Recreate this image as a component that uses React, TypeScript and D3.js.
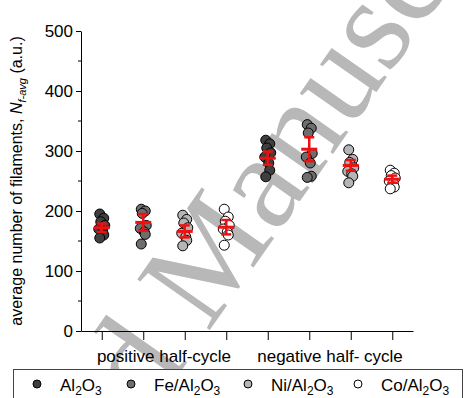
import React, { useEffect, useRef } from 'react';
import * as d3 from 'd3';

// values (a.u.)
const materials = ['Al2O3', 'Fe/Al2O3', 'Ni/Al2O3', 'Co/Al2O3'];
const halfCycles = ['positive half-cycle', 'negative half- cycle'];
const fills = ['#3f3f3f', '#6e6e6e', '#b5b5b5', '#ffffff'];

const posAl = [195, 188, 182, 176, 170, 165, 160, 155];
const posFe = [203, 200, 196, 176, 171, 165, 161, 145];
const posNi = [193, 186, 180, 172, 163, 157, 151, 142];
const posCo = [203, 190, 183, 176, 170, 165, 160, 143];
const negAl = [318, 312, 305, 297, 290, 280, 268, 257];
const negFe = [344, 338, 330, 296, 290, 280, 258, 256];
const negNi = [302, 286, 281, 272, 266, 262, 258, 247];
const negCo = [268, 263, 259, 255, 250, 246, 240, 237];

const groupValues = [posAl, posFe, posNi, posCo, negAl, negFe, negNi, negCo];
const means = [172, 181, 166, 173, 288, 303, 276, 253];
const errors = [7, 14, 10, 12, 11, 20, 9, 6];

const yTicks = [0, 100, 200, 300, 400, 500];

const App = () => {
  const svgRef = useRef<SVGSVGElement>(null);

  useEffect(() => {
    const svg = d3.select(svgRef.current);
    svg.selectAll('*').remove();

    const width = 474;
    const height = 398;
    const margin = { left: 81, right: 61, top: 31, bottom: 67 };
    const font = 'Liberation Sans, Arial, sans-serif';

    svg.attr('width', width).attr('height', height);

    const x = d3.scaleLinear().domain([0.5, 8.5]).range([margin.left, width - margin.right]);
    const y = d3.scaleLinear().domain([0, 500]).range([height - margin.bottom, margin.top]);

    // watermark
    svg.append('text')
      .attr('transform', 'translate(228,304) rotate(-55)')
      .attr('text-anchor', 'middle')
      .style('font-family', 'Liberation Serif, Times New Roman, serif')
      .style('font-size', '135px')
      .attr('fill', '#b8b8b8')
      .text('Accepted Manuscript');

    // axes
    const yAxis = svg.append('g').attr('transform', `translate(${margin.left},0)`);
    yAxis.call(d3.axisLeft(y).tickValues(yTicks).tickSize(5).tickSizeOuter(0).tickPadding(3));
    yAxis.selectAll('text').style('font-family', font).style('font-size', '17px').attr('fill', '#000');
    yAxis.select('.domain').attr('stroke', '#000');
    yAxis.selectAll('.minor')
      .data(d3.range(50, 500, 100))
      .enter()
      .append('line')
      .attr('x1', -3)
      .attr('x2', 0)
      .attr('y1', d => y(d))
      .attr('y2', d => y(d))
      .attr('stroke', '#000');

    const xAxis = svg.append('g').attr('transform', `translate(0,${y(0)})`);
    xAxis.call(d3.axisBottom(x).tickValues(d3.range(1, 9)).tickSize(9).tickSizeOuter(0).tickFormat(() => ''));
    xAxis.select('.domain').attr('stroke', '#000');

    halfCycles.forEach((label, i) => {
      svg.append('text')
        .attr('x', (x(1 + i * 4) + x(4 + i * 4)) / 2)
        .attr('y', 362)
        .attr('text-anchor', 'middle')
        .style('font-family', font)
        .style('font-size', '17px')
        .text(label);
    });

    // y label
    const yl = svg.append('text')
      .attr('transform', `translate(22,${(y(0) + y(500)) / 2}) rotate(-90)`)
      .attr('text-anchor', 'middle')
      .style('font-family', font)
      .style('font-size', '16px');
    yl.append('tspan').text('average number of filaments, ');
    yl.append('tspan').style('font-style', 'italic').text('N');
    yl.append('tspan').style('font-style', 'italic').style('font-size', '11px').attr('dy', 4).text('f-avg');
    yl.append('tspan').attr('dy', -4).text(' (a.u.)');

    // points
    const jitter = [-2, 2, -1, 3, -3, 1, 2, -2];
    groupValues.forEach((vals, g) => {
      svg.append('g')
        .selectAll('circle')
        .data(vals)
        .enter()
        .append('circle')
        .attr('cx', (d, i) => x(g + 1) + jitter[i])
        .attr('cy', d => y(d))
        .attr('r', 5)
        .attr('fill', fills[g % 4])
        .attr('stroke', '#000')
        .attr('stroke-width', 1);
    });

    // mean and error bars
    const eb = svg.append('g').attr('stroke', '#ee1111').attr('stroke-width', 2.5);
    means.forEach((m, g) => {
      const cx = x(g + 1);
      eb.append('line').attr('x1', cx).attr('x2', cx).attr('y1', y(m - errors[g])).attr('y2', y(m + errors[g]));
      eb.append('line').attr('x1', cx - 5).attr('x2', cx + 5).attr('y1', y(m - errors[g])).attr('y2', y(m - errors[g]));
      eb.append('line').attr('x1', cx - 5).attr('x2', cx + 5).attr('y1', y(m + errors[g])).attr('y2', y(m + errors[g]));
      eb.append('line').attr('x1', cx - 8).attr('x2', cx + 8).attr('y1', y(m)).attr('y2', y(m)).attr('stroke-width', 3);
    });

    // legend
    svg.append('rect')
      .attr('x', 13.5)
      .attr('y', 369.5)
      .attr('width', 449)
      .attr('height', 40)
      .attr('fill', '#fff')
      .attr('stroke', '#444');

    const legendX = [37, 131, 248, 358];
    materials.forEach((name, i) => {
      svg.append('circle')
        .attr('cx', legendX[i])
        .attr('cy', 384)
        .attr('r', 4)
        .attr('fill', fills[i])
        .attr('stroke', '#000');
      const t = svg.append('text')
        .attr('x', legendX[i] + 23)
        .attr('y', 391)
        .style('font-family', font)
        .style('font-size', '17px');
      const parts = name.match(/[A-Za-z/]+|\d/g) || [];
      let sub = false;
      parts.forEach(p => {
        const isNum = /\d/.test(p);
        const ts = t.append('tspan').text(p);
        if (isNum && !sub) { ts.attr('dy', 4).style('font-size', '12px'); sub = true; }
        else if (!isNum && sub) { ts.attr('dy', -4); sub = false; }
        else if (isNum) ts.style('font-size', '12px');
      });
    });
  }, []);

  return (
    <div style={{ position: 'absolute', left: 0, top: 0 }}>
      <svg ref={svgRef}></svg>
    </div>
  );
};

export default App;
